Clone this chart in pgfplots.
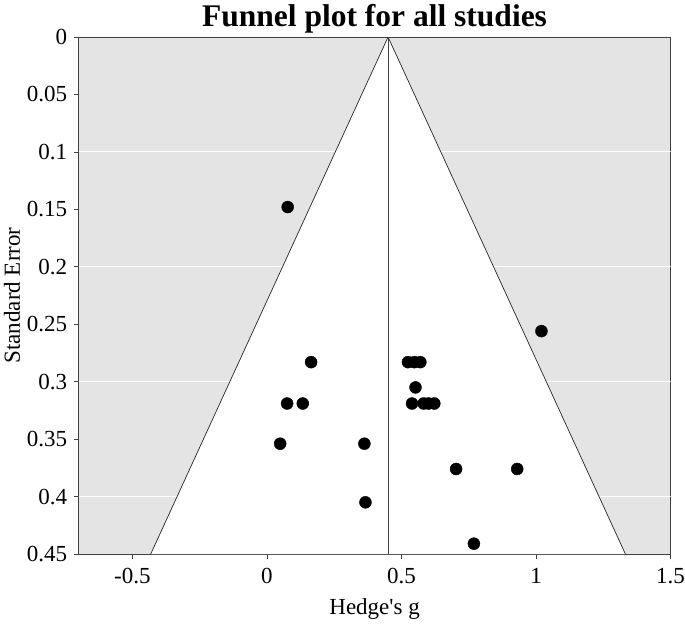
\documentclass[border=0pt]{standalone}
\usepackage{pgfplots}
\pgfplotsset{compat=1.18}
\usepackage{fontspec}
\setmainfont{Liberation Serif}
\definecolor{bggray}{HTML}{E4E4E4}
\definecolor{axgray}{HTML}{404040}
\begin{document}
\begin{tikzpicture}
\useasboundingbox (-78.6pt,-71pt) rectangle (606.4pt,554pt);
\begin{axis}[
  scale only axis,
  width=592pt, height=517pt,
  xmin=-0.7, xmax=1.5,
  ymin=0, ymax=0.45,
  y dir=reverse,
  xtick={-0.5,0,0.5,1,1.5},
  ytick={0,0.05,0.1,0.15,0.2,0.25,0.3,0.35,0.4,0.45},
  yticklabels={0,0.05,0.1,0.15,0.2,0.25,0.3,0.35,0.4,0.45},
  xticklabels={-0.5,0,0.5,1,1.5},
  tick align=outside,
  tick pos=left,
  major tick length=5pt,
  every tick/.style={axgray, line width=0.6pt},
  axis line style={axgray, line width=0.7pt},
  axis background/.style={fill=bggray},
  tick label style={font=\fontsize{23}{26}\selectfont},
  xticklabel style={yshift=-6pt},
  yticklabel style={xshift=-3pt},
  label style={font=\fontsize{23}{26}\selectfont},
  xlabel={Hedge\textquotesingle s g},
  ylabel={Standard Error},
  xlabel style={at={(axis description cs:0.5,-0.107)}, anchor=center},
  ylabel style={at={(axis description cs:-0.1125,0.5)}, anchor=center},
  title={Funnel plot for all studies},
  title style={font=\bfseries\fontsize{31.5}{36}\selectfont, yshift=-6pt},
  clip=true,
]
% white gridlines in gray region
\addplot[white, line width=0.8pt] coordinates {(-0.7,0.1) (1.5,0.1)};
\addplot[white, line width=0.8pt] coordinates {(-0.7,0.2) (1.5,0.2)};
\addplot[white, line width=0.8pt] coordinates {(-0.7,0.3) (1.5,0.3)};
\addplot[white, line width=0.8pt] coordinates {(-0.7,0.4) (1.5,0.4)};
% funnel
\addplot[fill=white, draw=none] coordinates {(0.45,0) (-0.432,0.45) (1.332,0.45)} -- cycle;
\addplot[black!85, line width=0.7pt] coordinates {(-0.432,0.45) (0.45,0) (1.332,0.45)};
\addplot[axgray, line width=0.7pt] coordinates {(0.45,0) (0.45,0.45)};
% studies
\addplot[only marks, mark=*, mark size=6pt, black] coordinates {
(0.077,0.148)
(1.020,0.256)
(0.164,0.283)
(0.524,0.283)
(0.548,0.283)
(0.570,0.283)
(0.552,0.305)
(0.075,0.319)
(0.133,0.319)
(0.539,0.319)
(0.582,0.319)
(0.601,0.319)
(0.622,0.319)
(0.049,0.354)
(0.362,0.354)
(0.703,0.376)
(0.930,0.376)
(0.366,0.405)
(0.769,0.441)
};
\end{axis}
\end{tikzpicture}
\end{document}
